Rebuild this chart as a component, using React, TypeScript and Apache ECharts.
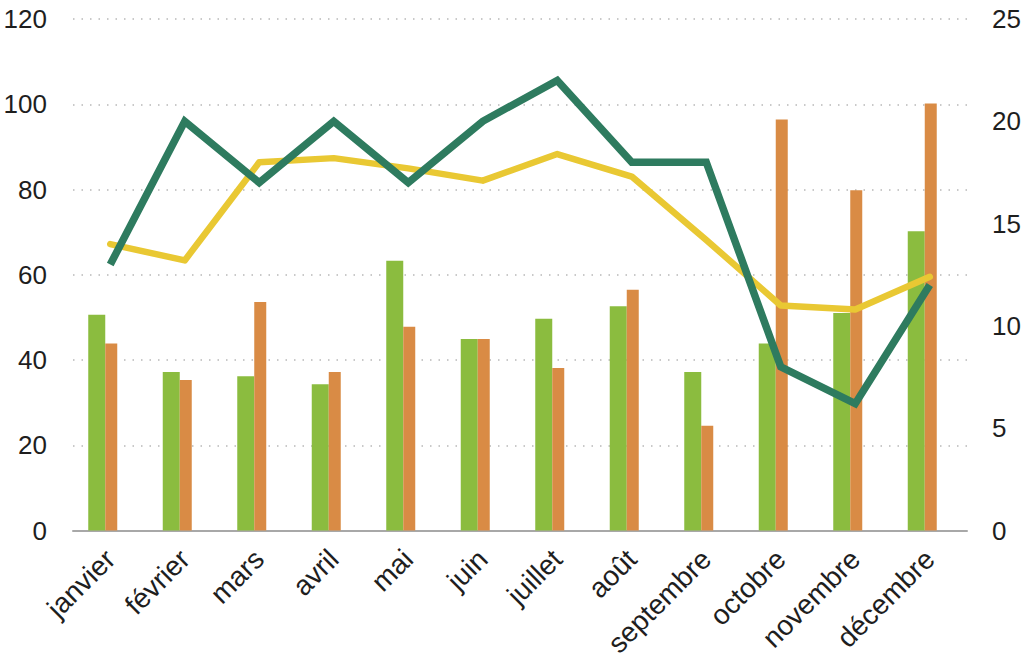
import React, { useEffect, useRef } from "react";
import * as echarts from "echarts";

const months = ["janvier", "février", "mars", "avril", "mai", "juin", "juillet", "août", "septembre", "octobre", "novembre", "décembre"];
const greenBars = [50.6, 37.2, 36.2, 34.3, 63.3, 44.9, 49.7, 52.6, 37.2, 43.9, 51, 70.2];
const orangeBars = [43.9, 35.3, 53.6, 37.2, 47.8, 44.9, 38.1, 56.5, 24.6, 96.4, 79.8, 100.2];
const darkLine = [13, 20, 17, 20, 17, 20, 22, 18, 18, 8, 6.2, 12];
const yellowLine = [14, 13.2, 18, 18.2, 17.7, 17.1, 18.4, 17.3, 14.2, 11, 10.8, 12.4];
const leftTicks = { min: 0, max: 120, interval: 20 };
const rightTicks = { min: 0, max: 25, interval: 5 };

const FONT = "'Liberation Sans', Arial, sans-serif";

export default function App() {
  const ref = useRef<HTMLDivElement>(null);
  useEffect(() => {
    if (!ref.current) return;
    const chart = echarts.init(ref.current, null, { renderer: "svg" });
    chart.setOption({
      animation: false,
      backgroundColor: "#ffffff",
      grid: { left: 73, right: 57, top: 19, bottom: 136.5, containLabel: false },
      xAxis: {
        type: "category",
        data: months,
        boundaryGap: true,
        axisLine: { show: true, lineStyle: { color: "#a8a8a8", width: 2 } },
        axisTick: { show: false },
        axisLabel: {
          rotate: 45,
          margin: 24,
          interval: 0,
          fontSize: 28,
          fontFamily: FONT,
          color: "#1e1e1e",
        },
        splitLine: { show: false },
      },
      yAxis: [
        {
          type: "value",
          ...leftTicks,
          position: "left",
          axisLine: { show: false },
          axisTick: { show: false },
          axisLabel: { margin: 26, fontSize: 26, fontFamily: FONT, color: "#1e1e1e" },
          splitLine: { show: true, lineStyle: { color: "#b8b8b8", width: 1.5, type: [1.5, 7] } },
        },
        {
          type: "value",
          ...rightTicks,
          position: "right",
          axisLine: { show: false },
          axisTick: { show: false },
          axisLabel: { margin: 25, fontSize: 26, fontFamily: FONT, color: "#1e1e1e" },
          splitLine: { show: false },
        },
      ],
      series: [
        {
          name: "vert",
          type: "bar",
          yAxisIndex: 0,
          data: greenBars,
          barWidth: 17,
          barGap: "0%",
          itemStyle: { color: "#8bbc3f" },
        },
        {
          name: "orange",
          type: "bar",
          yAxisIndex: 0,
          data: orangeBars,
          barWidth: 12,
          barGap: "0%",
          itemStyle: { color: "#d98b45" },
        },
        {
          name: "espace",
          type: "bar",
          yAxisIndex: 0,
          data: [],
          barWidth: 15,
          barGap: "0%",
          itemStyle: { color: "transparent" },
          silent: true,
        },
        {
          name: "jaune",
          type: "line",
          yAxisIndex: 1,
          data: yellowLine,
          symbol: "none",
          lineStyle: { color: "#e9c833", width: 6.5, cap: "round", join: "round" },
          z: 3,
        },
        {
          name: "vert foncé",
          type: "line",
          yAxisIndex: 1,
          data: darkLine,
          symbol: "none",
          lineStyle: { color: "#2e7b5f", width: 7.5, cap: "butt", join: "miter" },
          z: 4,
        },
      ],
    });
    return () => chart.dispose();
  }, []);
  return (
    <div
      ref={ref}
      style={{ position: "fixed", left: 0, top: 0, width: 1024, height: 667, background: "#fff" }}
    />
  );
}
